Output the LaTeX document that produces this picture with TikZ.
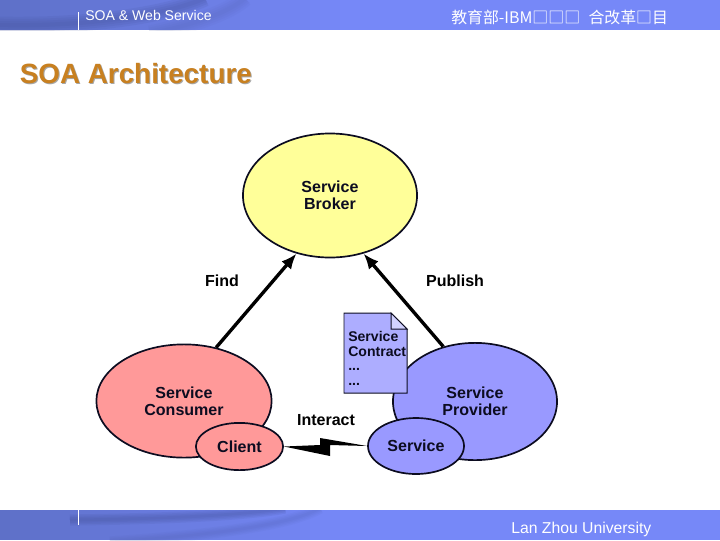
\documentclass[tikz,border=0pt]{standalone}
\usepackage{fontspec}
\setmainfont{Liberation Sans}
\newfontfamily\cjk{Noto Sans CJK SC}
\usetikzlibrary{arrows.meta,shapes.geometric}
\definecolor{barblue}{HTML}{7688F8}
\definecolor{barleft}{HTML}{5E70C8}
\definecolor{bardark}{HTML}{46549E}
\definecolor{titleorange}{HTML}{C88020}
\definecolor{ink}{HTML}{0C0C20}
\definecolor{partyyellow}{HTML}{FFFF99}
\definecolor{partyred}{HTML}{FF9999}
\definecolor{partyblue}{HTML}{9999FF}
\begin{document}
\begin{tikzpicture}[x=.025cm,y=-.025cm,>=latex,
    partyshape/.style={ellipse,draw=ink,line width=1.2pt,inner sep=0pt,align=center,text=ink,
        font=\bfseries\fontsize{11.4}{12.2}\selectfont},
    plainlabel/.style={text=black,font=\bfseries\fontsize{11.4}{13}\selectfont,inner sep=0pt},
    barlabel/.style={text=white,inner sep=0pt,anchor=base west},
    titlelabel/.style={anchor=base west,inner sep=0pt,font=\bfseries\fontsize{19.8}{22}\selectfont},
    relation/.style={line width=2.4pt,black,-{Latex[length=11pt,width=9pt]}}]
\useasboundingbox (0,0) rectangle (720,540);
\foreach \ytop/\ybot in {0/30,510/540}
{
    \fill[barblue] (0,\ytop) rectangle (720,\ybot);
    \foreach \x in {0,10,...,340}
    {
        \pgfmathsetmacro\mixpart{\x/3.41}
        \fill[barblue!\mixpart!barleft] (\x,\ytop) rectangle (\x+11,\ybot);
    }
}
\begin{scope}
\clip (0,0) rectangle (720,30);
\foreach \w in {3,6,9,12}
{
    \draw[bardark,opacity=.13,line width=\w pt] (0,25) .. controls (90,27) and (170,14) .. (205,-2);
    \draw[bardark,opacity=.05,line width=\w pt] (150,34) .. controls (195,24) and (230,12) .. (245,-2);
}
\end{scope}
\begin{scope}
\clip (0,510) rectangle (720,540);
\foreach \w in {2,4,6,8}
{
    \draw[bardark,opacity=.13,line width=\w pt] (70,520) .. controls (150,519) and (240,516) .. (285,508);
    \draw[bardark,opacity=.06,line width=\w pt] (110,542) .. controls (200,536) and (290,526) .. (320,508);
}
\end{scope}
\draw[white,line width=.6pt] (78,12)--(78,30);
\draw[white,line width=.6pt] (78,510)--(78,525);
\node[barlabel,font=\fontsize{10}{12}\selectfont] (headleft) at (85,20) {SOA \& Web Service};
\node[barlabel,font=\cjk\fontsize{11.3}{12}\selectfont] (headright) at (451,23) {教育部-IBM□□□\hspace{6pt}合改革□目};
\node[barlabel,font=\fontsize{11.2}{12}\selectfont] (footer) at (511,533) {Lan Zhou University};
\node[titlelabel,text=black!35] (titleshadow) at (20.5,84) {SOA Architecture};
\node[titlelabel,text=titleorange] (title) at (19.5,83) {SOA Architecture};

\node[partyshape,fill=partyyellow,minimum width=4.35cm,minimum height=3.1cm] (broker) at (330,195.5) {Service\\Broker};
\node[partyshape,fill=partyred,minimum width=4.38cm,minimum height=2.83cm] (consumer) at (184,401) {Service\\Consumer};
\node[partyshape,fill=partyblue,minimum width=4.1cm,minimum height=2.93cm] (provider) at (475,401.5) {Service\\Provider};
\node[partyshape,fill=partyred,minimum width=2.18cm,minimum height=1.18cm] (client) at (239.5,446.5) {Client};
\node[partyshape,fill=partyblue,minimum width=2.4cm,minimum height=1.4cm] (service) at (416,446) {Service};

\draw[relation] (consumer.59)--(broker.240);
\draw[relation] (provider.120)--(broker.300);
\fill[black] (client.east)--(320,445)--(320,438)--(service.west)--(330,445)--(330,456)--cycle;

\draw[ink,line width=.7pt,fill=partyblue!80!white] (344,313)--(391,313)--(407,329)--(407,393)--(344,393)--cycle;
\draw[ink,line width=.7pt,fill=partyblue!45!white] (391,313)--(391,329)--(407,329)--cycle;
\node[anchor=north west,align=left,inner sep=0pt,text=ink,font=\bfseries\fontsize{10}{10.2}\selectfont] (contract) at (348,331.5) {Service\\Contract\\...\\...};

\node[plainlabel] (find) at (222,281) {Find};
\node[plainlabel] (publish) at (455,281) {Publish};
\node[plainlabel] (interact) at (326,420) {Interact};
\end{tikzpicture}
\end{document}
